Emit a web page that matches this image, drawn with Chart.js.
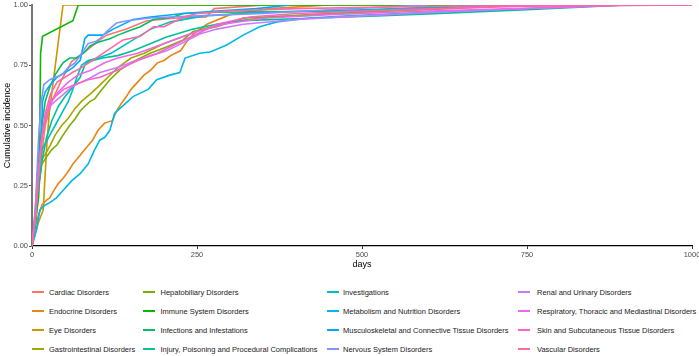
<!DOCTYPE html>
<html><head><meta charset="utf-8">
<script src="https://cdn.jsdelivr.net/npm/chart.js@4.4.0/dist/chart.umd.min.js"></script>
<style>
html,body{margin:0;padding:0;background:#fff;}
#wrap{position:relative;width:699px;height:356px;overflow:hidden;font-family:"Liberation Sans",Arial,sans-serif;}
#c{position:absolute;left:0;top:0;}
.key{position:absolute;width:12px;height:1.8px;}
.lab{position:absolute;font-size:7.5px;line-height:9px;color:#1a1a1a;white-space:nowrap;}
</style></head><body>
<div id="wrap"><canvas id="c" width="699" height="270"></canvas><div id="legend"></div></div>
<script>
const categories = ["Cardiac Disorders","Endocrine Disorders","Eye Disorders","Gastrointestinal Disorders",
  "Hepatobiliary Disorders","Immune System Disorders","Infections and Infestations","Injury, Poisoning and Procedural Complications",
  "Investigations","Metabolism and Nutrition Disorders","Musculoskeletal and Connective Tissue Disorders","Nervous System Disorders",
  "Renal and Urinary Disorders","Respiratory, Thoracic and Mediastinal Disorders","Skin and Subcutaneous Tissue Disorders","Vascular Disorders"];

// [day, cumulative incidence]
const cardiac = [[0,0],[5,0.08],[10,0.22],[15,0.38],[20,0.5],[30,0.6],[45,0.69],[60,0.765],[82,0.81],[100,0.85],[113,0.875],[143,0.9],[174,0.935],[214,0.945],[264,0.95],[276,0.985],[352,1.0]];
const endocrine = [[0,0],[5,0.08],[10,0.13],[15,0.17],[22,0.19],[27,0.2],[33,0.23],[40,0.26],[47,0.28],[55,0.31],[62,0.34],[68,0.36],[80,0.4],[92,0.44],[100,0.48],[110,0.51],[122,0.52],[128,0.56],[135,0.59],[143,0.62],[150,0.65],[160,0.68],[170,0.71],[180,0.73],[190,0.76],[200,0.77],[210,0.79],[225,0.81],[235,0.85],[245,0.88],[265,0.92],[300,0.96],[360,0.985],[450,1.0]];
const eye = [[0,0],[10,0.1],[17,0.15],[22,0.4],[26,0.55],[33,0.7],[40,0.85],[47,1.0],[1000,1.0]];
const gastrointestinal = [[0,0],[5,0.1],[10,0.25],[15,0.36],[20,0.38],[28,0.42],[35,0.46],[45,0.5],[55,0.53],[65,0.57],[75,0.6],[88,0.63],[100,0.66],[115,0.7],[130,0.74],[150,0.78],[170,0.8],[200,0.84],[230,0.87],[260,0.9],[300,0.93],[360,0.95],[450,0.965],[600,0.98],[750,1.0]];
const hepatobiliary = [[0,0],[5,0.1],[10,0.25],[15,0.34],[22,0.37],[30,0.4],[38,0.42],[47,0.46],[57,0.5],[66,0.53],[73,0.56],[80,0.58],[88,0.6],[95,0.61],[103,0.64],[118,0.69],[133,0.73],[153,0.765],[179,0.8],[204,0.826],[229,0.855],[244,0.89],[280,0.91],[320,0.946],[421,0.958],[550,0.98],[700,1.0]];
const immune = [[0,0],[10,0.2],[12,0.55],[13,0.8],[16,0.87],[62,0.935],[70,1.0],[1000,1.0]];
const infections = [[0,0],[5,0.15],[10,0.35],[15,0.5],[20,0.6],[27,0.66],[35,0.71],[47,0.76],[57,0.78],[67,0.78],[78,0.8],[88,0.83],[100,0.845],[118,0.86],[130,0.875],[144,0.89],[164,0.91],[184,0.94],[214,0.95],[229,0.965],[280,0.97],[480,0.975],[700,1.0]];
const injury = [[0,0],[5,0.1],[10,0.25],[15,0.35],[22,0.45],[30,0.52],[40,0.58],[50,0.62],[62,0.66],[73,0.7],[80,0.75],[85,0.765],[107,0.78],[130,0.79],[153,0.81],[180,0.84],[204,0.867],[244,0.9],[280,0.92],[320,0.935],[421,0.945],[512,0.954],[600,0.963],[750,0.98],[900,1.0]];
const investigations = [[0,0],[5,0.1],[10,0.3],[15,0.4],[25,0.45],[35,0.5],[45,0.55],[55,0.6],[62,0.65],[68,0.7],[75,0.75],[85,0.77],[100,0.78],[120,0.8],[150,0.85],[180,0.9],[210,0.93],[260,0.955],[350,0.97],[500,0.98],[700,1.0]];
const metabolism = [[0,0],[3,0.03],[7,0.07],[12,0.15],[20,0.17],[27,0.18],[37,0.2],[47,0.23],[60,0.27],[73,0.3],[85,0.34],[95,0.4],[103,0.44],[110,0.45],[118,0.48],[125,0.55],[133,0.57],[153,0.62],[176,0.65],[189,0.69],[210,0.71],[224,0.72],[232,0.78],[254,0.8],[270,0.805],[295,0.834],[320,0.875],[345,0.91],[371,0.93],[421,0.946],[480,0.955],[600,0.97],[900,1.0]];
const musculoskeletal = [[0,0],[5,0.1],[10,0.3],[14,0.45],[16,0.6],[20,0.64],[28,0.67],[38,0.7],[50,0.72],[62,0.74],[73,0.77],[80,0.86],[85,0.875],[107,0.875],[123,0.9],[153,0.94],[179,0.95],[229,0.965],[280,0.975],[340,0.985],[391,1.0]];
const nervous = [[0,0],[5,0.15],[10,0.45],[14,0.6],[18,0.67],[27,0.69],[35,0.7],[45,0.71],[55,0.74],[65,0.76],[73,0.79],[85,0.84],[97,0.85],[103,0.86],[113,0.89],[128,0.925],[144,0.935],[179,0.946],[250,0.955],[350,0.965],[450,0.98],[600,1.0]];
const renal = [[0,0],[5,0.12],[10,0.3],[15,0.45],[20,0.52],[27,0.58],[35,0.6],[48,0.63],[60,0.66],[75,0.68],[90,0.7],[103,0.72],[128,0.74],[153,0.765],[180,0.79],[204,0.81],[230,0.845],[254,0.88],[280,0.9],[320,0.92],[400,0.94],[500,0.955],[650,0.975],[886,1.0]];
const respiratory = [[0,0],[5,0.12],[10,0.3],[15,0.45],[22,0.55],[30,0.6],[40,0.64],[55,0.68],[70,0.71],[90,0.73],[110,0.76],[130,0.78],[160,0.8],[190,0.83],[220,0.86],[250,0.89],[290,0.92],[350,0.945],[450,0.96],[600,0.975],[800,0.99],[900,1.0]];
const skin = [[0,0],[5,0.12],[10,0.3],[15,0.45],[20,0.52],[27,0.6],[35,0.62],[48,0.65],[65,0.67],[85,0.69],[103,0.7],[130,0.73],[160,0.77],[190,0.8],[220,0.84],[250,0.88],[280,0.92],[330,0.95],[400,0.965],[550,0.98],[750,0.995],[1000,1.0]];
const vascular = [[0,0],[5,0.12],[10,0.3],[15,0.45],[20,0.55],[28,0.63],[38,0.68],[50,0.7],[61,0.72],[75,0.74],[92,0.77],[113,0.81],[138,0.855],[164,0.87],[184,0.91],[200,0.91],[230,0.95],[250,0.965],[300,0.975],[400,0.985],[600,0.995],[1000,1.0]];

const seriesList = [cardiac,endocrine,eye,gastrointestinal,hepatobiliary,immune,infections,injury,
  investigations,metabolism,musculoskeletal,nervous,renal,respiratory,skin,vascular];
const xTicks = [0,250,500,750,1000];
const yTicks = [0,0.25,0.5,0.75,1];

// ggplot2 default hue palette (HCL, c=100, l=65)
function hcl(h,c,l){
  const WY=100,Wu=0.1978398,Wv=0.4683363;
  const hr=h*Math.PI/180, U=c*Math.cos(hr), V=c*Math.sin(hr);
  const Y=WY*(l>7.999592?Math.pow((l+16)/116,3):l/903.3);
  const u=U/(13*l)+Wu, v=V/(13*l)+Wv;
  const X=9*Y*u/(4*v), Z=-X/3-5*Y+3*Y/v;
  const g=t=>t>0.00304?1.055*Math.pow(t,1/2.4)-0.055:12.92*t;
  const cl=t=>Math.max(0,Math.min(1,t));
  const r=cl(g((3.240479*X-1.537150*Y-0.498535*Z)/WY));
  const gg=cl(g((-0.969256*X+1.875992*Y+0.041556*Z)/WY));
  const b=cl(g((0.055648*X-0.204043*Y+1.057311*Z)/WY));
  const hx=t=>Math.round(t*255).toString(16).padStart(2,'0');
  return '#'+hx(r)+hx(gg)+hx(b);
}
const n = categories.length;
const colors = categories.map((_,i)=>hcl(15+i*(360/n),100,65));

const datasets = seriesList.map((s,i)=>({
  label: categories[i],
  data: s.map(p=>({x:p[0],y:p[1]})),
  borderColor: colors[i],
  backgroundColor: colors[i],
  borderWidth: 1.6,
  pointRadius: 0,
  tension: 0,
  fill: false,
  order: -i
}));

const tickFont = {family:'"Liberation Sans", Arial, sans-serif', size:7.5};
const titleFont = {family:'"Liberation Sans", Arial, sans-serif', size:9};

new Chart(document.getElementById('c'), {
  type:'line',
  data:{datasets},
  options:{
    responsive:false, animation:false, devicePixelRatio:1,
    layout:{padding:{top:5,right:7,left:0,bottom:0}},
    plugins:{legend:{display:false},tooltip:{enabled:false}},
    scales:{
      x:{type:'linear',min:0,max:1000,
        afterBuildTicks:(s)=>{s.ticks=xTicks.map(v=>({value:v}));},
        ticks:{font:tickFont,color:'#4d4d4d',padding:1,maxRotation:0,autoSkip:false,callback:v=>String(v)},
        grid:{display:true,drawOnChartArea:false,drawTicks:true,tickLength:3,color:'#333',lineWidth:1},
        border:{display:true,color:'#000',width:1.2},
        title:{display:true,text:'days',font:titleFont,color:'#000',padding:{top:0,bottom:0}},
        afterFit:(s)=>{s.height=24;s.paddingLeft=0;s.paddingRight=0;}
      },
      y:{type:'linear',min:0,max:1,
        afterBuildTicks:(s)=>{s.ticks=yTicks.map(v=>({value:v}));},
        ticks:{font:tickFont,color:'#4d4d4d',padding:1,autoSkip:false,callback:v=>Number(v).toFixed(2)},
        grid:{display:true,drawOnChartArea:false,drawTicks:true,tickLength:3,color:'#555',lineWidth:1},
        border:{display:true,color:'#777',width:2},
        title:{display:true,text:'Cumulative incidence',font:titleFont,color:'#000',padding:{top:2,bottom:0}},
        afterFit:(s)=>{s.width=32;s.paddingTop=0;s.paddingBottom=0;}
      }
    }
  }
});

// legend (column-major, 4 rows)
const keyX=[32,143,327,518], labX=[49,160.5,343,537], rowY=[292,311,330,349];
const leg=document.getElementById('legend');
categories.forEach((name,i)=>{
  const col=Math.floor(i/4), row=i%4;
  const k=document.createElement('div'); k.className='key';
  k.style.left=keyX[col]+'px'; k.style.top=(rowY[row]-0.9)+'px'; k.style.background=colors[i];
  const t=document.createElement('div'); t.className='lab';
  t.style.left=labX[col]+'px'; t.style.top=(rowY[row]-4.5)+'px'; t.textContent=name;
  leg.appendChild(k); leg.appendChild(t);
});
</script>
</body></html>
